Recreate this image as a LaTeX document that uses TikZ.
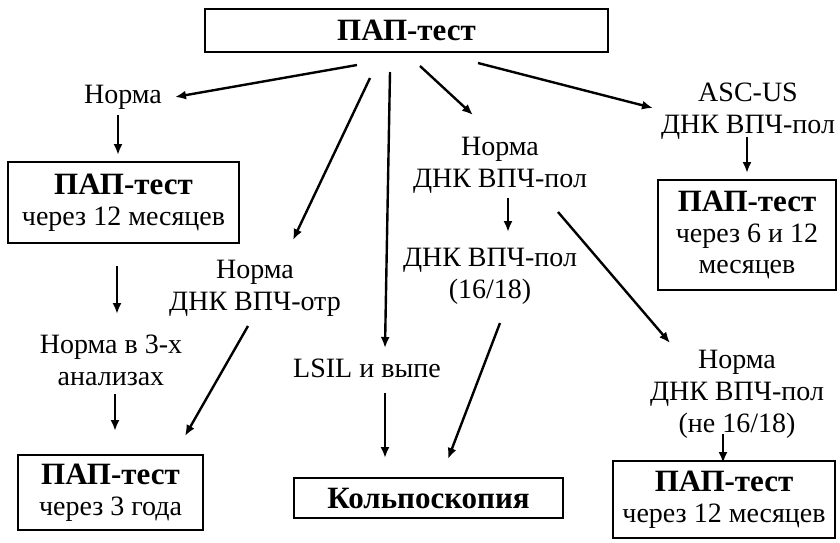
\documentclass[tikz,border=0pt]{standalone}
\usepackage{fontspec}
\setmainfont{Liberation Serif}
\usetikzlibrary{arrows.meta,calc}
\tikzset{
  lbl/.style={inner sep=1pt, align=center, font=\fontsize{28}{32}\selectfont},
  box/.style={draw, line width=1.8pt, inner sep=0pt, align=center, font=\fontsize{28}{31}\selectfont},
  arr/.style={line width=2.4pt, -{Latex[length=11pt,width=9pt]}},
}
\newcommand{\hd}[1]{{\fontsize{31}{31}\selectfont\bfseries #1}}
\begin{document}
\begin{tikzpicture}[x=1pt,y=-1pt]
\useasboundingbox (0,0) rectangle (840,542);
% boxes
\node[box, minimum width=403pt, minimum height=43pt] (top) at (406.5,30.5) {\hd{ПАП-тест}};
\node[box, minimum width=231pt, minimum height=81pt] (b1) at (123.5,202.5) {\hd{ПАП-тест}\\через 12 месяцев};
\node[box, minimum width=185pt, minimum height=75pt] (b2) at (110.5,492.5) {\hd{ПАП-тест}\\через 3 года};
\node[box, minimum width=269pt, minimum height=40pt] (kolpo) at (428.5,498) {\hd{Кольпоскопия}};
\node[box, minimum width=178pt, minimum height=110pt] (b3) at (747,235) {\hd{ПАП-тест}\\через 6 и 12\\месяцев};
\node[box, minimum width=222pt, minimum height=77pt] (b4) at (724,499.5) {\hd{ПАП-тест}\\через 12 месяцев};
% labels
\node[lbl] (n1) at (123,97) {Норма};
\node[lbl] (n2) at (111,360) {Норма в 3-х\\анализах};
\node[lbl] (n3) at (255,288) {Норма\\ДНК ВПЧ-отр};
\node[lbl] (lsil) at (367,368) {LSIL и выпе};
\node[lbl] (n4) at (500,165) {Норма\\ДНК ВПЧ-пол};
\node[lbl] (n5) at (490,276) {ДНК ВПЧ-пол\\(16/18)};
\node[lbl] (n6) at (748,111) {ASC-US\\ДНК ВПЧ-пол};
\node[lbl] (n7) at (737,394) {Норма\\ДНК ВПЧ-пол\\(не 16/18)};
% connectors
\draw[arr] ($(top.center)+(-49.5,34.5)$) -- ($(n1.center)+(52,0)$);
\draw[arr] ($(n1.center)+(-5,18)$) -- ($(b1.center)+(-5.5,-47.5)$);
\draw[arr] ($(b1.center)+(-6.5,63.5)$) -- ($(n2.center)+(6,-46)$);
\draw[arr] ($(n2.center)+(4,34)$) -- ($(b2.center)+(4.5,-61.5)$);
\draw[arr] ($(top.center)+(-36.5,47.5)$) -- ($(n3.center)+(38,-48)$);
\draw[arr] ($(n3.center)+(-7,38)$) -- ($(b2.center)+(74.5,-56.5)$);
\draw[arr] ($(top.center)+(-16.5,41.5)$) -- ($(lsil.center)+(18,-20)$);
\draw[arr] ($(lsil.center)+(18,25)$) -- ($(kolpo.center)+(-43.5,-40)$);
\draw[arr] ($(top.center)+(13.5,35.5)$) -- ($(n4.center)+(-27,-50)$);
\draw[arr] ($(top.center)+(71.5,32.5)$) -- ($(n6.center)+(-95,-3)$);
\draw[arr] ($(n4.center)+(8,33)$) -- ($(n5.center)+(18,-44)$);
\draw[arr] ($(n5.center)+(10,47)$) -- ($(kolpo.center)+(19.5,-39)$);
\draw[arr] ($(n4.center)+(58,47)$) -- ($(n7.center)+(-67,-51)$);
\draw[arr] ($(n6.center)+(-1,26)$) -- ($(b3.center)+(0,-62)$);
\draw[arr] ($(n7.center)+(-14,40)$) -- ($(b4.center)+(-1,-36.5)$);
\end{tikzpicture}
\end{document}
